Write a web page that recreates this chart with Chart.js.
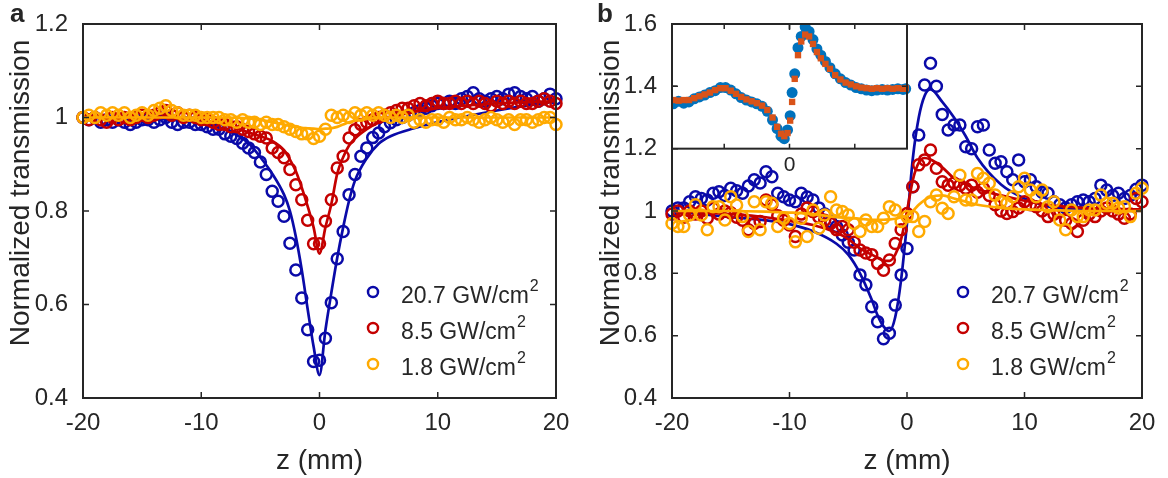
<!DOCTYPE html>
<html lang="en">
  <head>
    <meta charset="UTF-8" />
    <title>z-scan</title>
    <script src="https://cdn.jsdelivr.net/npm/chart.js@4.4.1/dist/chart.umd.min.js"></script>
    <style>
      html, body { margin: 0; padding: 0; background: #fff; }
      .panel { position: absolute; top: 0; width: 584px; height: 478px; }
      #wrapA { left: 0; }
      #wrapB { left: 584px; }
    </style>
  </head>
  <body>
    <div class="panel" id="wrapA"><canvas id="chartA"></canvas></div>
    <div class="panel" id="wrapB"><canvas id="chartB"></canvas></div>

    <script>
      // z positions of the measured points (mm)
      const zPts = [
        -20, -19.5, -19, -18.5, -18, -17.5, -17, -16.5, -16, -15.5,
        -15, -14.5, -14, -13.5, -13, -12.5, -12, -11.5, -11, -10.5,
        -10, -9.5, -9, -8.5, -8, -7.5, -7, -6.5, -6, -5.5,
        -5, -4.5, -4, -3.5, -3, -2.5, -2, -1.5, -1, -0.5,
        0, 0.5, 1, 1.5, 2, 2.5, 3, 3.5, 4, 4.5,
        5, 5.5, 6, 6.5, 7, 7.5, 8, 8.5, 9, 9.5,
        10, 10.5, 11, 11.5, 12, 12.5, 13, 13.5, 14, 14.5,
        15, 15.5, 16, 16.5, 17, 17.5, 18, 18.5, 19, 19.5,
        20
      ];

      // panel a : measured
      const aHigh = [
        1.0, 0.995, 1.0, 0.99, 0.995, 0.99, 0.995, 0.99, 0.985, 0.99,
        0.995, 0.995, 0.99, 0.995, 1.0, 0.99, 0.985, 0.99, 0.99, 0.985,
        0.985, 0.98, 0.975, 0.975, 0.965, 0.96, 0.955, 0.945, 0.935, 0.925,
        0.905, 0.878, 0.842, 0.821, 0.789, 0.731, 0.674, 0.614, 0.546, 0.478,
        0.481, 0.528, 0.604, 0.698, 0.756, 0.835, 0.878, 0.917, 0.935, 0.957,
        0.967, 0.98, 0.989, 0.995, 1.0, 1.005, 1.01, 1.015, 1.02, 1.025,
        1.03, 1.03, 1.035, 1.03, 1.04, 1.045, 1.053, 1.04, 1.035, 1.04,
        1.045, 1.04, 1.05, 1.053, 1.045, 1.04, 1.045, 1.035, 1.04, 1.05,
        1.04
      ];
      const aMid = [
        1.0, 0.995, 1.0, 0.995, 0.99, 1.0, 0.995, 1.0, 0.995, 1.0,
        1.005, 1.0, 1.005, 1.01, 1.015, 1.005, 1.01, 1.0, 1.005, 1.0,
        0.995, 0.995, 0.99, 0.985, 0.985, 0.98, 0.98, 0.975, 0.97, 0.965,
        0.96, 0.956, 0.935, 0.925, 0.914, 0.889, 0.856, 0.824, 0.78, 0.73,
        0.73, 0.778, 0.824, 0.892, 0.917, 0.956, 0.974, 0.985, 0.99, 0.995,
        1.0, 1.005, 1.01, 1.015, 1.02, 1.02, 1.025, 1.03, 1.025, 1.03,
        1.035, 1.03, 1.03, 1.035, 1.03, 1.035, 1.03, 1.035, 1.03, 1.025,
        1.035, 1.03, 1.035, 1.03, 1.035, 1.03, 1.03, 1.035, 1.04, 1.035,
        1.03
      ];
      const aLow = [
        1.0, 1.005, 1.0, 1.01, 1.005, 1.01, 1.005, 1.01, 1.0, 1.005,
        1.01, 1.005, 1.015, 1.02, 1.025, 1.015, 1.01, 1.005, 1.005, 1.005,
        1.0, 1.0, 1.0, 1.0, 0.995, 0.995, 0.99, 0.995, 0.99, 0.99,
        0.985, 0.99, 0.985, 0.985, 0.98, 0.975, 0.97, 0.965, 0.965, 0.955,
        0.96, 0.975, 1.005, 1.0, 1.005, 1.0, 1.01, 1.005, 1.01, 1.005,
        1.01, 1.005, 1.0, 1.005, 1.0, 1.005, 0.99, 0.995, 0.99, 0.995,
        0.995, 0.99, 1.0, 0.995, 0.995, 1.0, 0.995, 0.99, 0.995, 1.0,
        0.995, 0.99, 0.995, 0.985, 0.995, 0.995, 0.99, 0.995, 1.0, 1.0,
        0.985
      ];

      // panel b : measured
      const bHigh = [
        1.0, 1.01, 1.01, 1.03, 1.046, 1.04, 1.035, 1.057, 1.062, 1.05,
        1.073, 1.065, 1.057, 1.08, 1.1, 1.09, 1.126, 1.11, 1.057, 1.046,
        1.035, 1.03, 1.057, 1.045, 1.035, 1.01, 0.99, 0.966, 0.95, 0.923,
        0.9, 0.875, 0.795, 0.763, 0.693, 0.645, 0.59, 0.608, 0.698, 0.795,
        0.88, 1.078, 1.244, 1.404, 1.474, 1.4, 1.31, 1.26, 1.276, 1.276,
        1.206, 1.2, 1.27, 1.276, 1.196, 1.153, 1.158, 1.126, 1.1, 1.164,
        1.094, 1.1, 1.078, 1.06, 1.057, 1.03, 1.02, 1.01, 1.02, 1.03,
        1.035, 1.03, 1.04, 1.083, 1.067, 1.05, 1.057, 1.04, 1.05, 1.07,
        1.083
      ];
      const bMid = [
        0.99, 1.0, 0.98, 1.0, 0.99, 1.0, 0.977, 1.01, 0.99, 1.0,
        0.994, 0.98, 0.97, 0.94, 0.96, 0.966, 1.035, 1.02, 0.985, 0.97,
        0.955, 0.918, 0.99, 1.01, 0.998, 0.98, 0.97, 0.96, 0.94, 0.95,
        0.94, 0.9, 0.875, 0.865, 0.86, 0.832, 0.81, 0.843, 0.896, 0.94,
        0.992, 1.078, 1.148, 1.164, 1.196, 1.137, 1.094, 1.083, 1.09, 1.083,
        1.073, 1.083, 1.06, 1.073, 1.05, 1.02, 1.0, 0.992, 0.998, 1.01,
        1.03, 1.02, 1.014, 1.0, 0.982, 0.99, 1.0, 0.97, 0.96, 0.934,
        0.97, 0.99, 0.982, 1.0, 1.01, 1.0, 0.99, 0.977, 0.99, 1.04,
        1.03
      ];
      const bLow = [
        0.96, 0.95, 0.95, 0.987, 1.02, 0.987, 0.94, 1.014, 1.014, 0.971,
        1.046, 1.019, 0.982, 0.934, 1.03, 0.94, 1.03, 1.025, 0.95, 0.977,
        0.96, 0.901, 0.977, 0.918, 1.003, 0.945, 0.987, 1.046, 1.003, 0.998,
        0.987, 0.96, 0.934, 0.971, 0.95, 0.95, 0.977, 1.014, 1.003, 0.966,
        0.982, 0.982, 0.934, 0.966, 1.03, 1.051, 1.009, 0.992, 1.046, 1.115,
        1.035, 1.035, 1.12, 1.105, 1.089, 1.051, 1.03, 1.025, 1.046, 1.078,
        1.105, 1.067, 1.046, 1.067, 1.014, 1.03, 0.971, 0.94, 1.003, 0.982,
        0.982, 1.003, 1.003, 1.051, 1.025, 1.025, 1.01, 1.014, 0.982, 1.057,
        1.073
      ];

      // fitted curves
      const fitZA = [-20, -15, -10, -8, -6, -5, -4, -3, -2.5, -2, -1.5, -1, -0.5, 0, 0.5, 1, 1.5, 2, 2.5, 3, 4, 5, 6, 8, 10, 15, 20];
      const fitAHigh = [1.0, 0.998, 0.988, 0.975, 0.945, 0.915, 0.88, 0.835, 0.8, 0.745, 0.674, 0.59, 0.51, 0.449, 0.545, 0.625, 0.7, 0.765, 0.822, 0.865, 0.913, 0.944, 0.96, 0.977, 0.99, 1.015, 1.035];
      const fitAMid = [1.0, 1.0, 0.995, 0.985, 0.968, 0.96, 0.95, 0.93, 0.91, 0.885, 0.85, 0.81, 0.765, 0.709, 0.765, 0.815, 0.88, 0.915, 0.94, 0.955, 0.975, 0.99, 1.0, 1.012, 1.02, 1.03, 1.035];
      const fitALow = [1.0, 1.0, 1.0, 1.0, 0.998, 0.995, 0.99, 0.985, 0.982, 0.98, 0.978, 0.977, 0.976, 0.975, 0.976, 0.977, 0.98, 0.985, 0.99, 0.993, 0.997, 1.0, 1.0, 1.0, 1.0, 1.0, 1.0];

      const fitZB = [-20, -15, -12, -10, -8, -6, -5, -4, -3, -2.5, -2, -1.5, -1, -0.5, 0, 0.5, 1, 1.5, 2, 3, 4, 5, 6, 8, 10, 12, 15, 20];
      const fitBHigh = [1.0, 0.98, 0.97, 0.958, 0.935, 0.895, 0.86, 0.8, 0.715, 0.665, 0.63, 0.615, 0.66, 0.78, 0.96, 1.17, 1.3, 1.37, 1.39, 1.35, 1.3, 1.24, 1.17, 1.085, 1.04, 1.015, 1.005, 1.0];
      const fitBMid = [1.0, 0.99, 0.98, 0.968, 0.955, 0.93, 0.91, 0.88, 0.86, 0.85, 0.84, 0.84, 0.86, 0.91, 1.0, 1.1, 1.155, 1.17, 1.165, 1.14, 1.105, 1.085, 1.07, 1.05, 1.033, 1.02, 1.01, 1.005];
      const fitBLow = [1.0, 1.0, 0.998, 0.995, 0.99, 0.98, 0.978, 0.975, 0.972, 0.972, 0.972, 0.973, 0.975, 0.98, 0.985, 1.0, 1.02, 1.035, 1.045, 1.05, 1.04, 1.03, 1.02, 1.01, 1.005, 1.003, 1.0, 1.0];

      // inset (panel b)
      const insetU = [
        -1.78, -1.7, -1.62, -1.54, -1.46, -1.38, -1.3, -1.22, -1.14, -1.06,
        -0.98, -0.9, -0.82, -0.74, -0.66, -0.58, -0.5, -0.42, -0.34, -0.26,
        -0.19, -0.13, -0.08, -0.03, 0.01, 0.04, 0.08, 0.13, 0.18, 0.24,
        0.3, 0.36, 0.42, 0.48, 0.55, 0.62, 0.7, 0.78, 0.86, 0.94,
        1.02, 1.1, 1.18, 1.26, 1.34, 1.42, 1.5, 1.58, 1.66, 1.74, 1.78
      ];
      const insetBlue = [
        0.972, 0.976, 0.973, 0.975, 0.98, 0.983, 0.986, 0.99, 0.993, 0.998,
        0.998, 0.994, 0.988, 0.982, 0.978, 0.975, 0.972, 0.968, 0.96, 0.946,
        0.932, 0.92, 0.916, 0.93, 0.953, 0.99, 1.02, 1.062, 1.08, 1.095,
        1.088, 1.075, 1.06, 1.05, 1.04, 1.03, 1.02, 1.012, 1.006, 1.002,
        0.998, 0.996, 0.994, 0.993, 0.994, 0.995, 0.994, 0.995, 0.996, 0.995, 0.996
      ];
      const insetOrange = [
        0.978, 0.977, 0.978, 0.978, 0.981, 0.984, 0.987, 0.99, 0.994, 0.997,
        0.997, 0.993, 0.988, 0.983, 0.979, 0.976, 0.973, 0.969, 0.962, 0.95,
        0.935, 0.924, 0.92, 0.925, 0.945, 0.975, 1.012, 1.05, 1.072, 1.083,
        1.08, 1.068, 1.055, 1.045, 1.036, 1.028, 1.018, 1.011, 1.006, 1.003,
        1.0, 0.998, 0.997, 0.996, 0.997, 0.996, 0.997, 0.996, 0.997, 0.996, 0.997
      ];

      const legendLabels = ['20.7 GW/cm', '8.5 GW/cm', '1.8 GW/cm'];

      const INK = '#262626';
      const BLUE = '#0a0aa8';
      const RED = '#c40000';
      const YELLOW = '#ffaa00';
      const FONT = '"Liberation Sans", Arial, sans-serif';
      const seriesColors = [BLUE, RED, YELLOW];

      const pts = (xs, ys) => xs.map((x, i) => ({ x: x, y: ys[i] }));

      const scatterSet = (ys, color) => ({
        data: pts(zPts, ys),
        borderColor: color,
        backgroundColor: 'rgba(0,0,0,0)',
        borderWidth: 2.5,
        pointRadius: 5.5,
        pointHoverRadius: 5.5,
        showLine: false,
        clip: false
      });
      const fitSet = (xs, ys, color) => ({
        data: pts(xs, ys),
        borderColor: color,
        borderWidth: 2.7,
        pointRadius: 0,
        showLine: true,
        cubicInterpolationMode: 'monotone'
      });

      const tickFmt = (v) => String(+v.toFixed(2));

      // frame, inner ticks, legend, axis titles, panel letter
      const decorPlugin = {
        id: 'decor',
        beforeDatasetsDraw(chart, args, o) {
          if (!o.inset) return;
          const { ctx, scales } = chart;
          const l = scales.xi.getPixelForValue(-1.8), r = scales.xi.getPixelForValue(1.8);
          const t = scales.yi.getPixelForValue(1.1), b = scales.yi.getPixelForValue(0.9);
          ctx.save();
          ctx.fillStyle = '#fff';
          ctx.fillRect(l, t, r - l, b - t);
          ctx.restore();
        },
        afterDatasetsDraw(chart, args, o) {
          const { ctx, chartArea: a, scales } = chart;
          ctx.save();
          ctx.strokeStyle = INK;
          ctx.lineWidth = 2;
          ctx.strokeRect(a.left, a.top, a.width, a.height);
          ctx.lineWidth = 1.5;
          ctx.beginPath();
          scales.x.ticks.forEach((t) => {
            const px = scales.x.getPixelForValue(t.value);
            ctx.moveTo(px, a.bottom); ctx.lineTo(px, a.bottom - 6);
            ctx.moveTo(px, a.top); ctx.lineTo(px, a.top + 6);
          });
          scales.y.ticks.forEach((t) => {
            const py = scales.y.getPixelForValue(t.value);
            ctx.moveTo(a.left, py); ctx.lineTo(a.left + 6, py);
            ctx.moveTo(a.right, py); ctx.lineTo(a.right - 6, py);
          });
          ctx.stroke();

          if (o.inset) {
            const xi = scales.xi, yi = scales.yi;
            const l = xi.getPixelForValue(-1.8), r = xi.getPixelForValue(1.8);
            const t = yi.getPixelForValue(1.1), b = yi.getPixelForValue(0.9);
            ctx.lineWidth = 2;
            ctx.strokeRect(l, t, r - l, b - t);
            ctx.lineWidth = 1.5;
            ctx.beginPath();
            [-1, 0, 1].forEach((u) => {
              const px = xi.getPixelForValue(u);
              ctx.moveTo(px, b); ctx.lineTo(px, b - 5);
              ctx.moveTo(px, t); ctx.lineTo(px, t + 5);
            });
            const py = yi.getPixelForValue(1.0);
            ctx.moveTo(l, py); ctx.lineTo(l + 5, py);
            ctx.moveTo(r, py); ctx.lineTo(r - 5, py);
            ctx.stroke();
            ctx.fillStyle = INK;
            ctx.font = '21px ' + FONT;
            ctx.textAlign = 'center';
            ctx.textBaseline = 'middle';
            ctx.fillText('0', xi.getPixelForValue(0), b + 17);
          }

          // legend
          legendLabels.forEach((lab, i) => {
            const y = o.legendY + i * 36;
            ctx.beginPath();
            ctx.arc(o.legendX, y, 5, 0, Math.PI * 2);
            ctx.strokeStyle = seriesColors[i];
            ctx.lineWidth = 2.5;
            ctx.stroke();
            ctx.fillStyle = INK;
            ctx.textAlign = 'left';
            ctx.textBaseline = 'middle';
            ctx.font = '23px ' + FONT;
            ctx.fillText(lab, o.legendX + 28, y + 5);
            const w = ctx.measureText(lab).width;
            ctx.font = '16px ' + FONT;
            ctx.fillText('2', o.legendX + 29 + w, y - 5);
          });

          // axis titles
          ctx.fillStyle = INK;
          ctx.font = '28px ' + FONT;
          ctx.textAlign = 'center';
          ctx.textBaseline = 'middle';
          ctx.fillText('z (mm)', (a.left + a.right) / 2, 461);
          ctx.save();
          ctx.translate(o.titleX, o.titleY);
          ctx.rotate(-Math.PI / 2);
          ctx.fillText('Normalized transmission', 0, 0);
          ctx.restore();

          // panel letter
          ctx.font = 'bold 26px ' + FONT;
          ctx.textAlign = 'left';
          ctx.textBaseline = 'alphabetic';
          ctx.fillText(o.letter, o.letterX, 22);
          ctx.restore();
        }
      };

      const baseScales = (ymin, ymax, yWidth) => ({
        x: {
          type: 'linear', min: -20, max: 20,
          ticks: { stepSize: 10, color: INK, font: { family: FONT, size: 24 }, padding: 3, maxRotation: 0 },
          grid: { display: false }, border: { display: false },
          afterFit: (s) => { s.height = 80; }
        },
        y: {
          type: 'linear', min: ymin, max: ymax,
          ticks: { stepSize: 0.2, color: INK, font: { family: FONT, size: 24 }, padding: 7, callback: tickFmt },
          grid: { display: false }, border: { display: false },
          afterFit: (s) => { s.width = yWidth; }
        }
      });

      const commonOpts = {
        responsive: true,
        maintainAspectRatio: false,
        animation: false,
        events: [],
        plugins: { legend: { display: false }, tooltip: { enabled: false } }
      };

      //panel a
      const chartA = new Chart(document.getElementById('chartA'), {
        type: 'scatter',
        data: {
          datasets: [
            scatterSet(aLow, YELLOW),
            fitSet(fitZA, fitALow, YELLOW),
            scatterSet(aMid, RED),
            fitSet(fitZA, fitAMid, RED),
            scatterSet(aHigh, BLUE),
            fitSet(fitZA, fitAHigh, BLUE)
          ]
        },
        options: Object.assign({}, commonOpts, {
          layout: { padding: { top: 24, right: 28, left: 0, bottom: 0 } },
          scales: baseScales(0.4, 1.2, 83),
          plugins: Object.assign({}, commonOpts.plugins, {
            decor: { inset: false, legendX: 373, legendY: 292, titleX: 21, titleY: 193, letter: 'a', letterX: 10 }
          })
        }),
        plugins: [decorPlugin]
      });

      //panel b
      const scalesB = baseScales(0.4, 1.6, 88);
      scalesB.xi = { type: 'linear', display: false, min: -1.8, max: 5.4 };
      scalesB.yi = { type: 'linear', display: false, min: 0.5, max: 1.1 };

      const chartB = new Chart(document.getElementById('chartB'), {
        type: 'scatter',
        data: {
          datasets: [
            {
              data: pts(insetU, insetOrange), xAxisID: 'xi', yAxisID: 'yi',
              pointStyle: 'rect', pointRadius: 4.5, borderWidth: 0,
              backgroundColor: '#D95319', borderColor: '#D95319', showLine: false
            },
            {
              data: pts(insetU, insetBlue), xAxisID: 'xi', yAxisID: 'yi',
              pointStyle: 'circle', pointRadius: 5.5, borderWidth: 0,
              backgroundColor: '#0072BD', borderColor: '#0072BD', showLine: false
            },
            scatterSet(bLow, YELLOW),
            fitSet(fitZB, fitBLow, YELLOW),
            scatterSet(bMid, RED),
            fitSet(fitZB, fitBMid, RED),
            scatterSet(bHigh, BLUE),
            fitSet(fitZB, fitBHigh, BLUE)
          ]
        },
        options: Object.assign({}, commonOpts, {
          layout: { padding: { top: 24, right: 26, left: 0, bottom: 0 } },
          scales: scalesB,
          plugins: Object.assign({}, commonOpts.plugins, {
            decor: { inset: true, legendX: 379, legendY: 292, titleX: 27, titleY: 193, letter: 'b', letterX: 13 }
          })
        }),
        plugins: [decorPlugin]
      });
    </script>
  </body>
</html>
